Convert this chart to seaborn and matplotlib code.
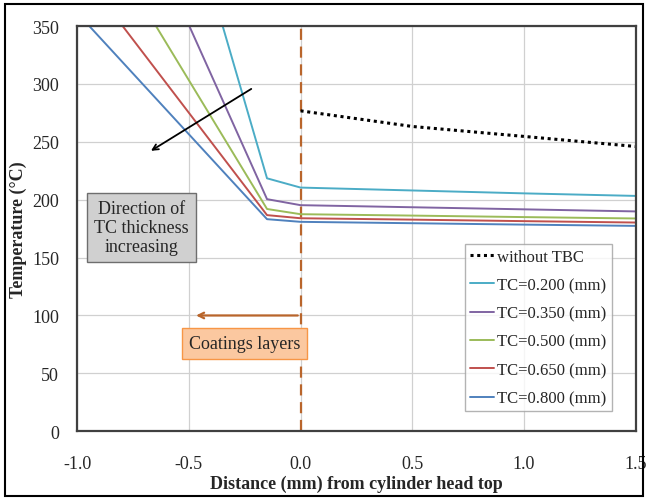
import matplotlib
matplotlib.use("Agg")
import matplotlib.pyplot as plt
import seaborn as sns
import pandas as pd
from matplotlib.patches import Rectangle

tc_labels = ["TC=0.200 (mm)", "TC=0.350 (mm)", "TC=0.500 (mm)", "TC=0.650 (mm)", "TC=0.800 (mm)"]
tc_colors = ["#4BACC6", "#8064A2", "#9BBB59", "#C0504D", "#4F81BD"]

# surface, bond-coat interface, substrate top, then into the head
tc_x = [
    [-0.35, -0.15, 0.0, 0.5, 1.0, 1.5],
    [-0.50, -0.15, 0.0, 0.5, 1.0, 1.5],
    [-0.65, -0.15, 0.0, 0.5, 1.0, 1.5],
    [-0.80, -0.15, 0.0, 0.5, 1.0, 1.5],
    [-0.95, -0.15, 0.0, 0.5, 1.0, 1.5],
]
tc_temp = [
    [351, 218.5, 210.5, 208.0, 205.5, 203.3],
    [351, 200.5, 195.3, 193.5, 191.7, 189.9],
    [351, 192.0, 187.5, 186.3, 185.0, 183.8],
    [351, 186.7, 184.0, 182.8, 181.5, 180.3],
    [351, 183.2, 180.9, 179.7, 178.5, 177.4],
]

no_tbc_x = [0.0, 0.5, 1.0, 1.5]
no_tbc_temp = [276.8, 263.3, 254.7, 246.0]

rows = []
for lab, xs, ts in zip(tc_labels, tc_x, tc_temp):
    for x, t in zip(xs, ts):
        rows.append({"Distance": x, "Temperature": t, "Case": lab})
df = pd.DataFrame(rows)
df_no = pd.DataFrame({"Distance": no_tbc_x, "Temperature": no_tbc_temp, "Case": "without TBC"})

sns.set_style("white")
plt.rcParams["font.family"] = ["Liberation Serif", "DejaVu Serif"]

fig = plt.figure(figsize=(6.48, 5.02), dpi=100)
ax = fig.add_axes([0.119, 0.139, 0.862, 0.807])

sns.lineplot(data=df_no, x="Distance", y="Temperature", color="black",
             linestyle=(0, (1, 1.2)), linewidth=2.2, label="without TBC", ax=ax)
sns.lineplot(data=df, x="Distance", y="Temperature", hue="Case", hue_order=tc_labels,
             palette=dict(zip(tc_labels, tc_colors)), linewidth=1.4, ax=ax)

# interface line and coating arrow
ax.axvline(0.0, color="#B9652B", linestyle=(0, (5, 3)), linewidth=1.6, zorder=1)
ax.annotate("", xy=(-0.48, 100), xytext=(0.0, 100),
            arrowprops=dict(arrowstyle="->", color="#B9652B", lw=1.6))
ax.annotate("", xy=(-0.68, 241), xytext=(-0.21, 297),
            arrowprops=dict(arrowstyle="->", color="black", lw=1.3))

ax.text(-0.25, 76, "Coatings layers", ha="center", va="center", fontsize=13,
        bbox=dict(boxstyle="square,pad=0.38", facecolor="#FBC8A0", edgecolor="#F79646", lw=1))
ax.text(-0.712, 176, "Direction of\nTC thickness\nincreasing", ha="center", va="center",
        fontsize=13, linespacing=1.15,
        bbox=dict(boxstyle="square,pad=0.4", facecolor="#D0D0D0", edgecolor="#6E6E6E", lw=1))

ax.set_xlim(-1.0, 1.5)
ax.set_ylim(0, 350)
ax.set_xticks([-1.0, -0.5, 0.0, 0.5, 1.0, 1.5])
ax.set_xticklabels(["-1.0", "-0.5", "0.0", "0.5", "1.0", "1.5"])
ax.set_yticks(range(0, 351, 50))
ax.grid(True, color="#D0D0D0", linewidth=0.9)
ax.set_axisbelow(True)
for s in ax.spines.values():
    s.set_color("#404040")
    s.set_linewidth(1.6)
ax.tick_params(labelsize=13, length=0)
ax.tick_params(axis="x", pad=17)
ax.tick_params(axis="y", pad=13)
ax.set_xlabel("Distance (mm) from cylinder head top", fontsize=13, fontweight="bold", labelpad=2)
ax.set_ylabel("Temperature (\u00b0C)", fontsize=13, fontweight="bold", labelpad=4)

handles, labels = ax.get_legend_handles_labels()
leg = ax.legend(handles, labels, loc="lower right", bbox_to_anchor=(0.957, 0.049),
                borderaxespad=0, fontsize=12, fancybox=False, frameon=True,
                handlelength=1.45, handletextpad=0.2, labelspacing=0.74, borderpad=0.3)
leg.get_frame().set_edgecolor("#A0A0A0")
leg.get_frame().set_linewidth(1.0)

fig.patches.append(Rectangle((0.008, 0.01), 0.984, 0.98, transform=fig.transFigure,
                             fill=False, edgecolor="black", linewidth=1.5))

fig.savefig("out.png", dpi=100)
